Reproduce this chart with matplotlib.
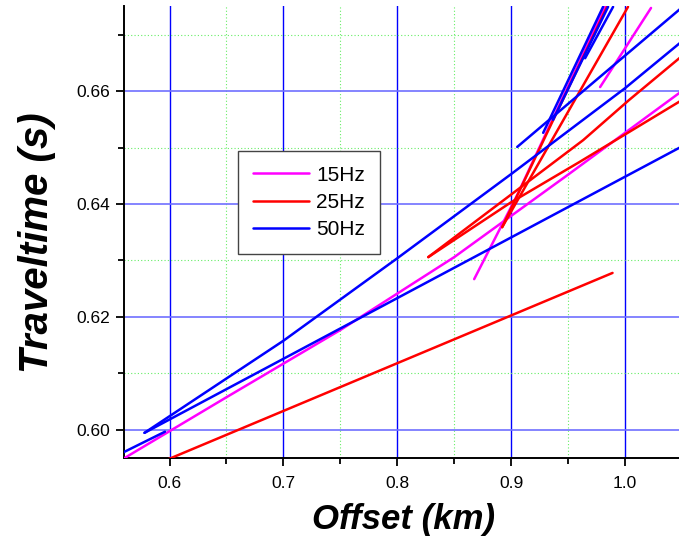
import matplotlib.pyplot as plt
from matplotlib.ticker import MultipleLocator

plt.rcParams['font.family'] = ['Liberation Sans', 'DejaVu Sans']

# traveltime picks, offset in km, time in s
# 15 Hz
m1_x = [0.556, 0.65, 0.75, 0.85, 0.95, 1.05]
m1_y = [0.5945, 0.6058, 0.6177, 0.6306, 0.6452, 0.6600]
m2_x = [0.8675, 0.9053, 0.9825]
m2_y = [0.6267, 0.6416, 0.6749]
m3_x = [0.9781, 1.0228]
m3_y = [0.6607, 0.6747]

# 25 Hz
r1_x = [0.595, 0.989]
r1_y = [0.5945, 0.6278]
r2_x = [0.8272, 0.9632, 1.0035, 1.05]
r2_y = [0.6306, 0.6513, 0.6584, 0.6662]
r3_x = [0.8272, 0.8991, 0.9597, 1.05]
r3_y = [0.6306, 0.6402, 0.6474, 0.6584]
r4_x = [0.8921, 0.9842]
r4_y = [0.6359, 0.6749]
r5_x = [0.8921, 1.0026]
r5_y = [0.6359, 0.6749]

# 50 Hz
b1_x = [0.555, 0.596]
b1_y = [0.5956, 0.5997]
b2_x = [0.578, 1.05]
b2_y = [0.5995, 0.6502]
b3_x = [0.578, 0.70, 0.80, 0.90, 1.00, 1.05]
b3_y = [0.5995, 0.6158, 0.6304, 0.6453, 0.6605, 0.6688]
b4_x = [0.9053, 1.05]
b4_y = [0.6501, 0.6748]
b5_x = [0.9281, 0.9807]
b5_y = [0.6526, 0.6749]
b6_x = [0.9368, 0.9851]
b6_y = [0.6549, 0.6749]
b7_x = [0.9649, 0.9895]
b7_y = [0.6658, 0.6749]

groups = [
    ('15Hz', '#ff00ff', [(m1_x, m1_y), (m2_x, m2_y), (m3_x, m3_y)]),
    ('25Hz', '#ff0000', [(r1_x, r1_y), (r2_x, r2_y), (r3_x, r3_y),
                         (r4_x, r4_y), (r5_x, r5_y)]),
    ('50Hz', '#0000ff', [(b1_x, b1_y), (b2_x, b2_y), (b3_x, b3_y),
                         (b4_x, b4_y), (b5_x, b5_y), (b6_x, b6_y),
                         (b7_x, b7_y)]),
]

W, H = 679, 542
fig = plt.figure(figsize=(W/100, H/100), dpi=100)
ax = fig.add_axes([124/W, 1-458.25/H, (682-124)/W, (458.25-6.25)/H])

for label, color, segs in groups:
    for i, (x, y) in enumerate(segs):
        ax.plot(x, y, color=color, lw=1.8, solid_capstyle='round',
                label=label if i == 0 else None, zorder=3)

ax.set_xlim(0.56, 1.05)
ax.set_ylim(0.595, 0.675)
ax.xaxis.set_major_locator(MultipleLocator(0.1))
ax.xaxis.set_minor_locator(MultipleLocator(0.05))
ax.yaxis.set_major_locator(MultipleLocator(0.02))
ax.yaxis.set_minor_locator(MultipleLocator(0.01))
ax.xaxis.set_major_formatter(plt.FormatStrFormatter('%.1f'))
ax.yaxis.set_major_formatter(plt.FormatStrFormatter('%.2f'))

ax.grid(which='major', axis='x', color='#0000ff', lw=1.0, zorder=1)
ax.grid(which='major', axis='y', color='#7070ff', lw=1.2, zorder=1)
ax.grid(which='minor', color='#66ee66', lw=0.8, ls=(0, (1, 2)), zorder=1)
ax.set_axisbelow(True)

for s in ['top', 'right']:
    ax.spines[s].set_visible(False)
for s in ['left', 'bottom']:
    ax.spines[s].set_linewidth(1.4)

ax.tick_params(which='major', length=6, width=1.3, labelsize=12.5)
ax.tick_params(which='minor', length=4, width=1.3)
ax.tick_params(axis='x', which='major', pad=7)
ax.tick_params(axis='y', which='major', pad=4)

fig.text(404/W, 1-520/H, 'Offset (km)', ha='center', va='center',
         fontsize=25, fontweight='bold', fontstyle='italic')
fig.text(37/W, 1-243/H, 'Traveltime (s)', ha='center', va='center',
         rotation=90, fontsize=29, fontweight='bold', fontstyle='italic',
         family=['Liberation Sans Narrow', 'Liberation Sans'])

leg = ax.legend(loc='upper left', bbox_to_anchor=(238/W, 1-151/H),
                bbox_transform=fig.transFigure, borderaxespad=0,
                fontsize=15, handlelength=2.7, handletextpad=0.35,
                labelspacing=0.4, borderpad=0.7, fancybox=False,
                framealpha=1)
leg.get_frame().set_edgecolor('#444444')
leg.get_frame().set_linewidth(1.0)

fig.savefig('out.png', dpi=100)
